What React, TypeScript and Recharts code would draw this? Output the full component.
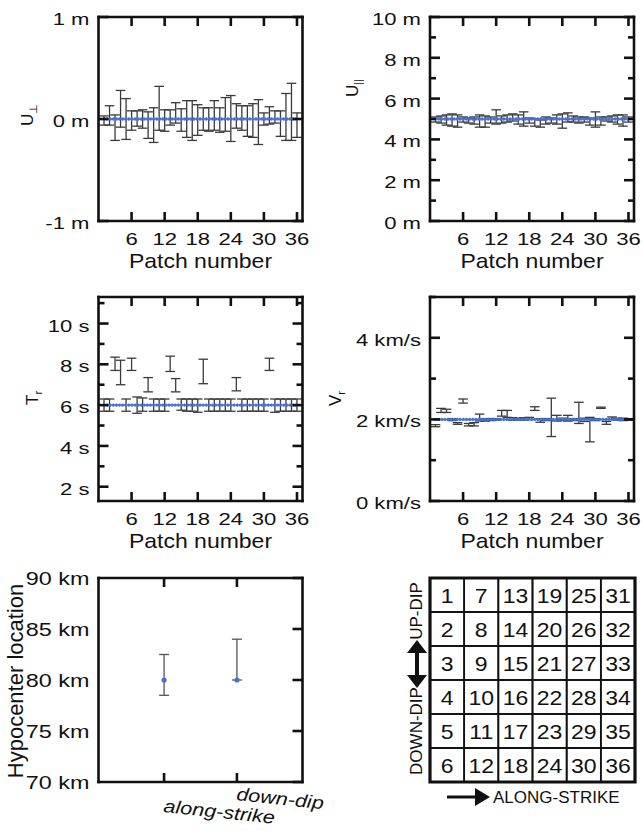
import React from "react";
import {
  ComposedChart,
  ErrorBar,
  Line,
  ReferenceArea,
  Scatter,
  ScatterChart,
  XAxis,
  YAxis,
} from "recharts";

const W = 643;
const H = 831;
const FONT = "'Liberation Sans', Arial, Helvetica, sans-serif";
const INK = "#111";
const BAR = "#3a3a3a";
const BLUE = "#4a6fcf";

// patch numbers and shared x ticks
const PATCHES = [
  1, 2, 3, 4, 5, 6, 7, 8, 9, 10, 11, 12, 13, 14, 15, 16, 17, 18,
  19, 20, 21, 22, 23, 24, 25, 26, 27, 28, 29, 30, 31, 32, 33, 34, 35, 36,
];
const PATCH_TICKS = [6, 12, 18, 24, 30, 36];

// U perpendicular (m)
const UPERP_TRUE = 0;
const UPERP_LOW = [
  -0.06, -0.06, -0.21, -0.08, -0.2, -0.11, -0.07, -0.09, -0.19, -0.23, -0.11, -0.12,
  -0.06, -0.04, -0.12, -0.18, -0.21, -0.16, -0.11, -0.12, -0.11, -0.13, -0.12, -0.22,
  -0.09, -0.11, -0.17, -0.18, -0.25, -0.06, -0.05, -0.04, -0.17, -0.21, -0.21, -0.18,
];
const UPERP_HIGH = [
  0.03, 0.13, 0.04, 0.28, 0.2, 0.08, 0.08, 0.09, 0.07, 0.11, 0.32, 0.09,
  0.09, 0.16, 0.1, 0.18, 0.18, 0.14, 0.11, 0.11, 0.18, 0.11, 0.21, 0.23,
  0.15, 0.13, 0.13, 0.15, 0.19, 0.06, 0.12, 0.08, 0.08, 0.25, 0.35, 0.06,
];
const UPERP_TICKS = [-1, 0, 1];

// U parallel (m)
const UPAR_TRUE = 5;
const UPAR_LOW = [
  4.85, 4.8, 4.7, 4.65, 4.6, 4.85, 4.8, 4.75, 4.6, 4.6, 4.8, 4.75,
  4.8, 4.85, 4.9, 4.75, 4.65, 4.8, 4.65, 4.6, 4.75, 4.8, 4.75, 4.55,
  4.85, 4.85, 4.8, 4.85, 4.7, 4.6, 4.7, 4.9, 4.85, 4.75, 4.65, 4.85,
];
const UPAR_HIGH = [
  5.1, 5.15, 5.2, 5.25, 5.2, 5.1, 5.05, 5.1, 5.2, 5.15, 5.1, 5.45,
  5.15, 5.2, 5.25, 5.2, 5.35, 5.05, 5.0, 4.95, 5.1, 5.05, 5.2, 5.25,
  5.3, 5.15, 5.1, 5.1, 5.05, 5.35, 5.1, 5.1, 5.15, 5.2, 5.2, 5.1,
];
const UPAR_TICKS = [0, 1, 2, 3, 4, 5, 6, 7, 8, 9, 10];
const UPAR_LABELS = [0, 2, 4, 6, 8, 10];

// rise time (s)
const TR_TRUE = 6;
const TR_LOW = [
  5.7, 5.7, 7.7, 7.0, 5.7, 7.7, 5.6, 5.7, 6.65, 5.7, 5.7, 5.7,
  7.65, 6.65, 5.75, 5.7, 5.7, 5.65, 7.05, 5.7, 5.7, 5.7, 5.7, 5.7,
  6.7, 5.7, 5.7, 5.7, 5.7, 5.7, 7.7, 5.65, 5.7, 5.7, 5.7, 5.7,
];
const TR_HIGH = [
  6.3, 6.3, 8.35, 8.2, 6.3, 8.3, 6.4, 6.35, 7.35, 6.3, 6.3, 6.3,
  8.4, 7.3, 6.3, 6.3, 6.3, 6.3, 8.25, 6.3, 6.3, 6.3, 6.3, 6.3,
  7.35, 6.3, 6.3, 6.3, 6.3, 6.3, 8.3, 6.3, 6.3, 6.3, 6.3, 6.3,
];
const TR_TICKS = [2, 3, 4, 5, 6, 7, 8, 9, 10, 11];
const TR_LABELS = [2, 4, 6, 8, 10];

// rupture velocity (km/s)
const VR_TRUE = 2;
const VR_LOW = [
  1.82, 2.17, 2.17, 1.97, 1.88, 2.4, 1.84, 1.84, 1.96, 1.96, 1.97, 1.98,
  2.08, 2.05, 1.98, 1.98, 1.98, 2.0, 2.22, 1.93, 1.97, 1.58, 1.96, 1.97,
  1.96, 1.97, 1.9, 1.95, 1.45, 1.97, 2.27, 1.88, 2.0, 1.98, 1.97, 1.98,
];
const VR_HIGH = [
  1.87, 2.27, 2.25, 2.02, 1.92, 2.5, 1.9, 1.92, 2.13, 2.02, 2.02, 2.02,
  2.22, 2.22, 2.04, 2.03, 2.04, 2.05, 2.31, 2.02, 2.02, 2.52, 2.1, 2.03,
  2.1, 2.02, 2.42, 2.03, 2.05, 2.02, 2.3, 1.95, 2.06, 2.03, 2.03, 2.02,
];
const VR_TICKS = [0, 1, 2, 3, 4, 5];
const VR_LABELS = [0, 2, 4];

// hypocenter (km)
const HYPO_NAMES = ["along-strike", "down-dip"];
const HYPO_POS = [1, 2];
const HYPO_VALUE = [80, 80];
const HYPO_LOW = [78.5, 80];
const HYPO_HIGH = [82.5, 84];
const HYPO_TICKS = [70, 75, 80, 85, 90];

// patch layout diagram
const GRID_NUMBERS = [
  [1, 7, 13, 19, 25, 31],
  [2, 8, 14, 20, 26, 32],
  [3, 9, 15, 21, 27, 33],
  [4, 10, 16, 22, 28, 34],
  [5, 11, 17, 23, 29, 35],
  [6, 12, 18, 24, 30, 36],
];

type Rect = [number, number, number, number];

function SText({
  x, y, size, sx = 1, anchor = "middle", rotate = 0, italic = false, children,
}: {
  x: number; y: number; size: number; sx?: number; anchor?: string;
  rotate?: number; italic?: boolean; children: React.ReactNode;
}) {
  return (
    <text
      transform={`translate(${x},${y}) rotate(${rotate}) scale(${sx},1)`}
      textAnchor={anchor as any}
      fontSize={size}
      fontFamily={FONT}
      fontStyle={italic ? "italic" : "normal"}
      fill={INK}
    >
      {children}
    </text>
  );
}

// axes get 1px of room each, so shrink the margins by that much
const margins = (r: Rect) => ({
  left: r[0] - 1,
  top: r[1] - 1,
  right: W - r[2] - 1,
  bottom: H - r[3] - 1,
});
const AXIS_LINE = { stroke: INK, strokeWidth: 2.6, strokeLinecap: "square" as const };

function buildRows(truth: number, low: number[], high: number[]) {
  return PATCHES.map((p, i) => ({
    patch: p,
    truth,
    err: [truth - low[i], high[i] - truth],
  }));
}

function PatchPanel({
  rect, data, yDomain, yTicks, yLabels, unit,
}: {
  rect: Rect; data: any[]; yDomain: [number, number]; yTicks: number[];
  yLabels: number[]; unit: string;
}) {
  const bottomTick = (p: any) => (
    <g key={`b${p.index}`}>
      <line x1={p.x} x2={p.x} y1={rect[3]} y2={rect[3] - 9} stroke={INK} strokeWidth={2.6} />
      <SText x={p.x} y={rect[3] + 24} size={17} sx={1.3}>{p.payload.value}</SText>
    </g>
  );
  const topTick = (p: any) => (
    <line key={`t${p.index}`} x1={p.x} x2={p.x} y1={rect[1]} y2={rect[1] + 9} stroke={INK} strokeWidth={2.6} />
  );
  const leftTick = (p: any) => {
    const major = yLabels.includes(p.payload.value);
    return (
      <g key={`l${p.index}`}>
        <line x1={rect[0]} x2={rect[0] + (major ? 10 : 6)} y1={p.y} y2={p.y} stroke={INK} strokeWidth={2.6} />
        {major && (
          <SText x={rect[0] - 9} y={p.y + 8} size={17} sx={1.3} anchor="end">
            {`${p.payload.value} ${unit}`}
          </SText>
        )}
      </g>
    );
  };
  const rightTick = (p: any) => {
    const major = yLabels.includes(p.payload.value);
    return (
      <line key={`r${p.index}`} x1={rect[2]} x2={rect[2] - (major ? 10 : 6)} y1={p.y} y2={p.y}
        stroke={INK} strokeWidth={2.6} />
    );
  };

  return (
    <div style={{ position: "absolute", left: 0, top: 0 }}>
      <ComposedChart width={W} height={H} data={data} margin={margins(rect)}>
        <XAxis xAxisId="b" dataKey="patch" type="number" domain={[0, 37]} ticks={PATCH_TICKS}
          interval={0} height={1} tickSize={0} tickMargin={0} tickLine={false}
          axisLine={AXIS_LINE} tick={bottomTick} allowDataOverflow />
        <XAxis xAxisId="t" orientation="top" dataKey="patch" type="number" domain={[0, 37]}
          ticks={PATCH_TICKS} interval={0} height={1} tickSize={0} tickMargin={0}
          tickLine={false} axisLine={AXIS_LINE} tick={topTick} allowDataOverflow />
        <YAxis yAxisId="l" type="number" domain={yDomain} ticks={yTicks} interval={0}
          width={1} tickSize={0} tickMargin={0} tickLine={false} axisLine={AXIS_LINE}
          tick={leftTick} allowDataOverflow />
        <YAxis yAxisId="r" orientation="right" type="number" domain={yDomain} ticks={yTicks}
          interval={0} width={1} tickSize={0} tickMargin={0} tickLine={false}
          axisLine={AXIS_LINE} tick={rightTick} allowDataOverflow />
        <Line xAxisId="b" yAxisId="l" dataKey="truth" stroke="none" dot={false}
          activeDot={false} isAnimationActive={false}>
          <ErrorBar dataKey="err" direction="y" width={4.8} stroke={BAR} strokeWidth={1.3} />
        </Line>
        <Line xAxisId="b" yAxisId="l" dataKey="truth" stroke={BLUE} strokeWidth={3.3}
          strokeDasharray="0 3.1" strokeLinecap="round" dot={false} activeDot={false}
          isAnimationActive={false} />
      </ComposedChart>
    </div>
  );
}

const HYPO_RECT: Rect = [98.5, 578, 302.5, 782];
const HYPO_LABEL_DY = [30, 18];

function HypoPanel() {
  const r = HYPO_RECT;
  const data = HYPO_POS.map((x, i) => ({
    x,
    name: HYPO_NAMES[i],
    y: HYPO_VALUE[i],
    err: [HYPO_VALUE[i] - HYPO_LOW[i], HYPO_HIGH[i] - HYPO_VALUE[i]],
  }));
  const bottomTick = (p: any) => (
    <g key={`b${p.index}`}>
      <line x1={p.x} x2={p.x} y1={r[3]} y2={r[3] - 9} stroke={INK} strokeWidth={2.6} />
      <SText x={p.x - 1} y={r[3] + HYPO_LABEL_DY[p.index]} size={18} sx={1.2} anchor="start" rotate={6} italic>
        {HYPO_NAMES[p.index]}
      </SText>
    </g>
  );
  const topTick = (p: any) => (
    <line key={`t${p.index}`} x1={p.x} x2={p.x} y1={r[1]} y2={r[1] + 9} stroke={INK} strokeWidth={2.6} />
  );
  const leftTick = (p: any) => (
    <SText key={`l${p.index}`} x={r[0] - 9} y={p.y + 7} size={18} sx={1.3} anchor="end">
      {`${p.payload.value} km`}
    </SText>
  );
  const rightTick = (p: any) => (
    <line key={`r${p.index}`} x1={r[2]} x2={r[2] - 10} y1={p.y} y2={p.y} stroke={INK} strokeWidth={2.6} />
  );
  return (
    <div style={{ position: "absolute", left: 0, top: 0 }}>
      <ComposedChart width={W} height={H} data={data} margin={margins(r)}>
        <XAxis xAxisId="b" dataKey="x" type="number" domain={[0.1, 2.9]} ticks={HYPO_POS}
          interval={0} height={1} tickSize={0} tickMargin={0} tickLine={false}
          axisLine={AXIS_LINE} tick={bottomTick} allowDataOverflow />
        <XAxis xAxisId="t" orientation="top" dataKey="x" type="number" domain={[0.1, 2.9]}
          ticks={HYPO_POS} interval={0} height={1} tickSize={0} tickMargin={0}
          tickLine={false} axisLine={AXIS_LINE} tick={topTick} allowDataOverflow />
        <YAxis yAxisId="l" type="number" domain={[70, 90]} ticks={HYPO_TICKS} interval={0}
          width={1} tickSize={0} tickMargin={0} tickLine={false} axisLine={AXIS_LINE}
          tick={leftTick} allowDataOverflow />
        <YAxis yAxisId="r" orientation="right" type="number" domain={[70, 90]} ticks={HYPO_TICKS}
          interval={0} width={1} tickSize={0} tickMargin={0} tickLine={false}
          axisLine={AXIS_LINE} tick={rightTick} allowDataOverflow />
        <Line xAxisId="b" yAxisId="l" dataKey="y" stroke="none" isAnimationActive={false}
          activeDot={false}
          dot={(p: any) => <circle key={p.index} cx={p.cx} cy={p.cy} r={2.6} fill={BLUE} />}>
          <ErrorBar dataKey="err" direction="y" width={5} stroke="#555" strokeWidth={1.3} />
        </Line>
      </ComposedChart>
    </div>
  );
}

const GRID_RECT: Rect = [430, 578, 635, 782];
const CELL_W = (GRID_RECT[2] - GRID_RECT[0]) / 6;
const CELL_H = (GRID_RECT[3] - GRID_RECT[1]) / 6;

function GridPanel() {
  const cells = GRID_NUMBERS.flatMap((row, r) => row.map((n, c) => ({ col: c, row: r, n })));
  const shape = (p: any) => (
    <g>
      <rect x={p.cx - CELL_W / 2} y={p.cy - CELL_H / 2} width={CELL_W} height={CELL_H}
        fill="none" stroke={INK} strokeWidth={1.7} />
      <SText x={p.cx} y={p.cy + 7.5} size={20} sx={1.15}>{p.payload.n}</SText>
    </g>
  );
  return (
    <div style={{ position: "absolute", left: 0, top: 0 }}>
      <ScatterChart width={W} height={H} margin={{ left: GRID_RECT[0], top: GRID_RECT[1], right: W - GRID_RECT[2], bottom: H - GRID_RECT[3] }}>
        <XAxis dataKey="col" type="number" domain={[-0.5, 5.5]} hide />
        <YAxis dataKey="row" type="number" domain={[-0.5, 5.5]} reversed hide />
        <ReferenceArea x1={-0.5} x2={5.5} y1={-0.5} y2={5.5} fill="none" stroke={INK}
          strokeWidth={3.2} ifOverflow="visible" />
        <Scatter data={cells} shape={shape} isAnimationActive={false} />
      </ScatterChart>
    </div>
  );
}

function Overlay() {
  const sub = (x: number, y: number, main: string, s: string, size: number, subSize: number) => (
    <text transform={`translate(${x},${y}) rotate(-90)`} fontFamily={FONT} fill={INK} fontSize={size}>
      {main}
      <tspan fontSize={subSize} dy={4}>{s}</tspan>
    </text>
  );
  return (
    <svg width={W} height={H} style={{ position: "absolute", left: 0, top: 0, pointerEvents: "none" }}>
      {/* axis titles */}
      <SText x={200.5} y={268} size={20} sx={1.15}>Patch number</SText>
      <SText x={532} y={268} size={20} sx={1.15}>Patch number</SText>
      <SText x={200.5} y={548} size={20} sx={1.15}>Patch number</SText>
      <SText x={532} y={548} size={20} sx={1.15}>Patch number</SText>
      {sub(33, 126, "U", "⊥", 17, 11)}
      {sub(358, 97, "U", "||", 17, 10)}
      {sub(38, 405, "T", "r", 17, 11)}
      {sub(341, 406, "V", "r", 17, 11)}
      <SText x={23} y={681} size={22} rotate={-90}>Hypocenter location</SText>

      {/* patch diagram annotations */}
      <SText x={422} y={611} size={17} rotate={-90}>UP-DIP</SText>
      <SText x={422} y={731} size={17} rotate={-90}>DOWN-DIP</SText>
      <line x1={417} x2={417} y1={648} y2={680} stroke={INK} strokeWidth={4} />
      <polygon points="407,653 417,640 427,653" fill={INK} />
      <polygon points="407,675 417,688 427,675" fill={INK} />
      <line x1={447} x2={478} y1={797} y2={797} stroke={INK} strokeWidth={3} />
      <polygon points="475,788 490,797 475,806" fill={INK} />
      <SText x={493} y={803} size={17} anchor="start">ALONG-STRIKE</SText>
    </svg>
  );
}

export default function App() {
  return (
    <div style={{ position: "absolute", left: 0, top: 0, width: W, height: H, background: "#fff" }}>
      <PatchPanel rect={[98.5, 17, 302.5, 221]} data={buildRows(UPERP_TRUE, UPERP_LOW, UPERP_HIGH)}
        yDomain={[-1, 1]} yTicks={UPERP_TICKS} yLabels={UPERP_TICKS} unit="m" />
      <PatchPanel rect={[430, 17, 634, 221]} data={buildRows(UPAR_TRUE, UPAR_LOW, UPAR_HIGH)}
        yDomain={[0, 10]} yTicks={UPAR_TICKS} yLabels={UPAR_LABELS} unit="m" />
      <PatchPanel rect={[98.5, 297, 302.5, 501]} data={buildRows(TR_TRUE, TR_LOW, TR_HIGH)}
        yDomain={[1.3, 11.3]} yTicks={TR_TICKS} yLabels={TR_LABELS} unit="s" />
      <PatchPanel rect={[430, 297, 634, 501]} data={buildRows(VR_TRUE, VR_LOW, VR_HIGH)}
        yDomain={[0, 5]} yTicks={VR_TICKS} yLabels={VR_LABELS} unit="km/s" />
      <HypoPanel />
      <GridPanel />
      <Overlay />
    </div>
  );
}
